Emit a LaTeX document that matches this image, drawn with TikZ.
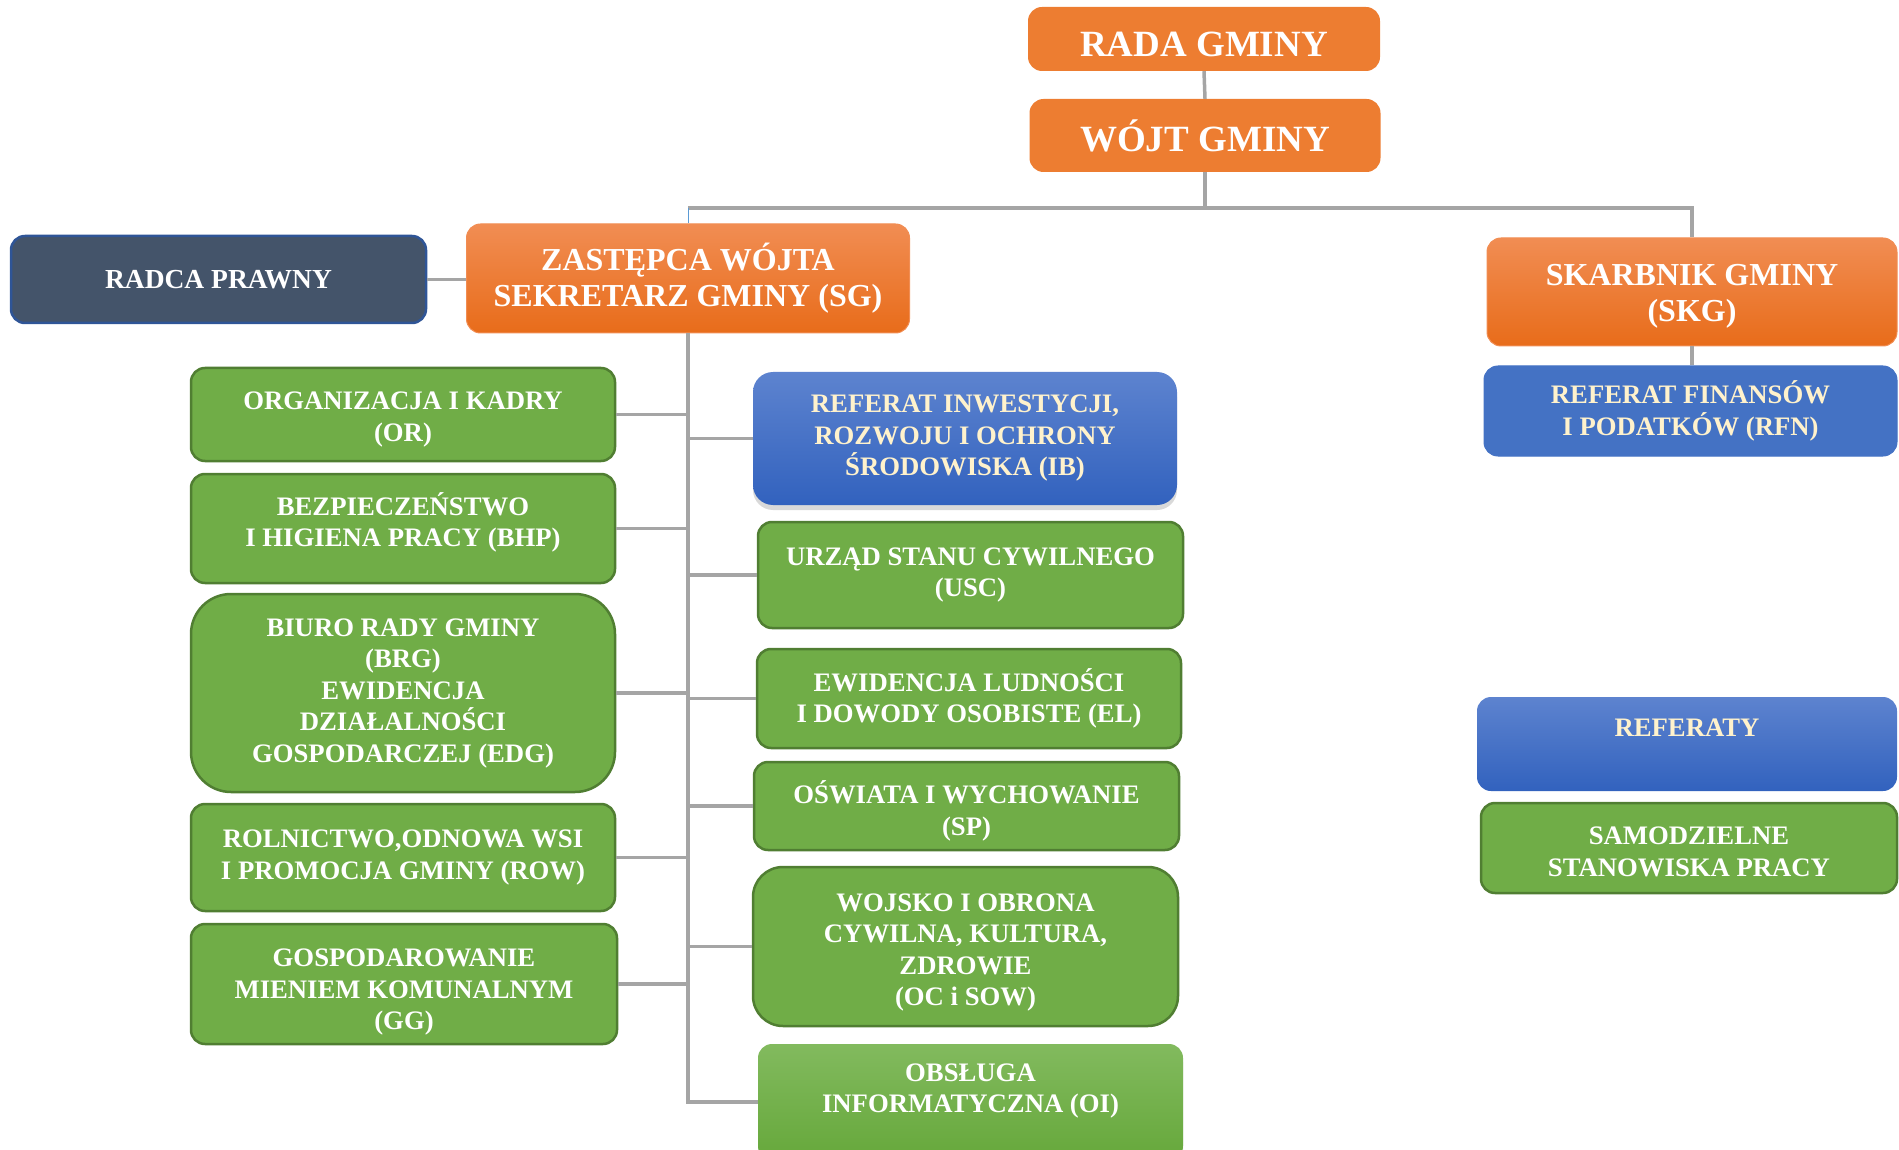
\documentclass[tikz,border=0pt]{standalone}
\usepackage{fontspec}
\setmainfont{Liberation Serif}
\usetikzlibrary{shadows}
\definecolor{orflat}{HTML}{ED7D31}
\definecolor{ortop}{HTML}{F18D53}
\definecolor{orbot}{HTML}{E86C1A}
\definecolor{slate}{HTML}{44546A}
\definecolor{slateb}{HTML}{2F5597}
\definecolor{grn}{HTML}{70AD47}
\definecolor{grnd}{HTML}{507E32}
\definecolor{grntop}{HTML}{82BA5E}
\definecolor{grnbot}{HTML}{66A83B}
\definecolor{blflat}{HTML}{4472C4}
\definecolor{bltop}{HTML}{5D83CF}
\definecolor{blbot}{HTML}{3262BE}
\definecolor{cream}{HTML}{FFF2CC}
\definecolor{conn}{HTML}{A5A5A5}
\definecolor{thinblue}{HTML}{5B9BD5}
\begin{document}
\begin{tikzpicture}[x=1pt,y=-1pt,
  smallfont/.style={font=\bfseries\fontsize{26.7}{31.5}\selectfont},
  box/.style={rounded corners=14pt, align=center, inner sep=0pt, smallfont, text=white},
  txt/.style={align=center, inner sep=0pt, smallfont, text=white},
  orgbox/.style={box, fill=orflat, font=\bfseries\fontsize{37}{42}\selectfont},
  orggrad/.style={box, top color=ortop, bottom color=orbot, draw=ortop, line width=1pt,
    font=\bfseries\fontsize{32}{36}\selectfont},
  slatebox/.style={box, fill=slate, draw=slateb, line width=2.5pt},
  grnbox/.style={box, fill=grn, draw=grnd, line width=2.5pt},
  blubox/.style={box, fill=blflat, draw=blflat, line width=1pt, text=cream},
  blugrad/.style={box, top color=bltop, bottom color=blbot, text=cream},
  cline/.style={draw=conn, line width=3.5pt},
]
\useasboundingbox (0,0) rectangle (1899,1150);
\clip (0,0) rectangle (1899,1150);

% top
\node[orgbox, minimum width=352pt, minimum height=64pt] (rada) at (1204,39) {};
\node[txt, font=\bfseries\fontsize{37}{42}\selectfont] (rada-t) at ([yshift=-5pt]rada.center) {RADA GMINY};
\node[orgbox, minimum width=351pt, minimum height=73pt] (wojt) at (1205,135.5) {WÓJT GMINY};

\node[slatebox, font=\bfseries\fontsize{27.5}{32}\selectfont, minimum width=415pt, minimum height=87pt] (radca) at (218.5,279.5) {RADCA PRAWNY};
\node[orggrad, minimum width=443pt, minimum height=109pt] (sg) at (688,278.5) {ZASTĘPCA WÓJTA\\SEKRETARZ GMINY (SG)};
\node[orggrad, minimum width=410pt, minimum height=108pt] (skg) at (1692,292) {};
\node[txt, font=\bfseries\fontsize{32}{36}\selectfont] (skg-t) at ([yshift=-4pt]skg.center) {SKARBNIK GMINY\\(SKG)};
\node[blubox, minimum width=413pt, minimum height=90pt] (rfn) at (1690.5,411) {REFERAT FINANSÓW\\I PODATKÓW (RFN)};

% left column
\node[grnbox, minimum width=424pt, minimum height=93pt] (or) at (403,414.5) {};
\node[txt] (or-t) at ([yshift=-5pt]or.center) {ORGANIZACJA I KADRY\\(OR)};
\node[grnbox, minimum width=424pt, minimum height=109pt] (bhp) at (403,528.5) {};
\node[txt] (bhp-t) at ([yshift=6pt]bhp.center) {BEZPIECZEŃSTWO\\I HIGIENA PRACY (BHP)};
\node[grnbox, rounded corners=40pt, minimum width=424pt, minimum height=198pt] (brg) at (403,693) {BIURO RADY GMINY\\(BRG)\\EWIDENCJA\\DZIAŁALNOŚCI\\GOSPODARCZEJ (EDG)};
\node[grnbox, minimum width=424pt, minimum height=107pt] (row) at (403,857.5) {ROLNICTWO,ODNOWA WSI\\I PROMOCJA GMINY (ROW)};
\node[grnbox, minimum width=426pt, minimum height=120pt] (gg) at (404,984) {};
\node[txt] (gg-t) at ([yshift=-8pt]gg.center) {GOSPODAROWANIE\\MIENIEM KOMUNALNYM\\(GG)};

% right column
\node[blugrad, rounded corners=20pt, drop shadow={opacity=0.3, shadow xshift=0pt, shadow yshift=-5pt}, minimum width=424pt, minimum height=133pt] (ib) at (965,438.5) {REFERAT INWESTYCJI,\\ROZWOJU I OCHRONY\\ŚRODOWISKA (IB)};
\node[grnbox, minimum width=425pt, minimum height=106pt] (usc) at (970.5,575) {URZĄD STANU CYWILNEGO\\(USC)};
\node[grnbox, minimum width=424pt, minimum height=99pt] (el) at (969,698.5) {EWIDENCJA LUDNOŚCI\\I DOWODY OSOBISTE (EL)};
\node[grnbox, minimum width=425pt, minimum height=88pt] (sp) at (966.5,806) {};
\node[txt] (sp-t) at ([yshift=-5pt]sp.center) {OŚWIATA I WYCHOWANIE\\(SP)};
\node[grnbox, rounded corners=30pt, minimum width=425pt, minimum height=159pt] (wojsko) at (965.5,946.5) {};
\node[txt] (wojsko-t) at ([yshift=-6pt]wojsko.center) {WOJSKO I OBRONA\\CYWILNA, KULTURA,\\ZDROWIE\\(OC i SOW)};
\node[box, top color=grntop, bottom color=grnbot, drop shadow={opacity=0.3, shadow xshift=0pt, shadow yshift=-4pt}, minimum width=425pt, minimum height=116pt] (oi) at (970.5,1102) {};
\node[txt] (oi-t) at ([yshift=11pt]oi.center) {OBSŁUGA\\INFORMATYCZNA (OI)};

% legend
\node[blugrad, minimum width=420pt, minimum height=94pt] (referaty) at (1687,744) {};
\node[txt, text=cream] (referaty-t) at ([yshift=16pt]referaty.center) {REFERATY};
\node[grnbox, minimum width=416pt, minimum height=90pt] (samodz) at (1689,848) {};
\node[txt] (samodz-t) at ([yshift=-4pt]samodz.center) {SAMODZIELNE\\STANOWISKA PRACY};

% connectors
\coordinate (hub) at (1205,208);
\draw[cline] (rada.south) -- (wojt.north);
\draw[cline] (wojt.south) -- (hub);
\draw[cline] (hub -| sg.north) -- (hub) -| (skg.north);
\draw[draw=thinblue, line width=1pt] (hub -| sg.north) -- (sg.north);
\draw[cline] (radca.east) -- (radca.east -| sg.west);
\draw[cline] (skg.south) -- (skg.south |- rfn.north);
\draw[cline] (sg.south) -- (sg.south |- oi.west) -- (oi.west);
\foreach \n in {or,bhp,brg,row,gg}{
  \draw[cline] (\n.east) -- (\n.east -| sg.south);
}
\foreach \n in {ib,usc,el,sp,wojsko}{
  \draw[cline] (\n.west) -- (\n.west -| sg.south);
}
\end{tikzpicture}
\end{document}
